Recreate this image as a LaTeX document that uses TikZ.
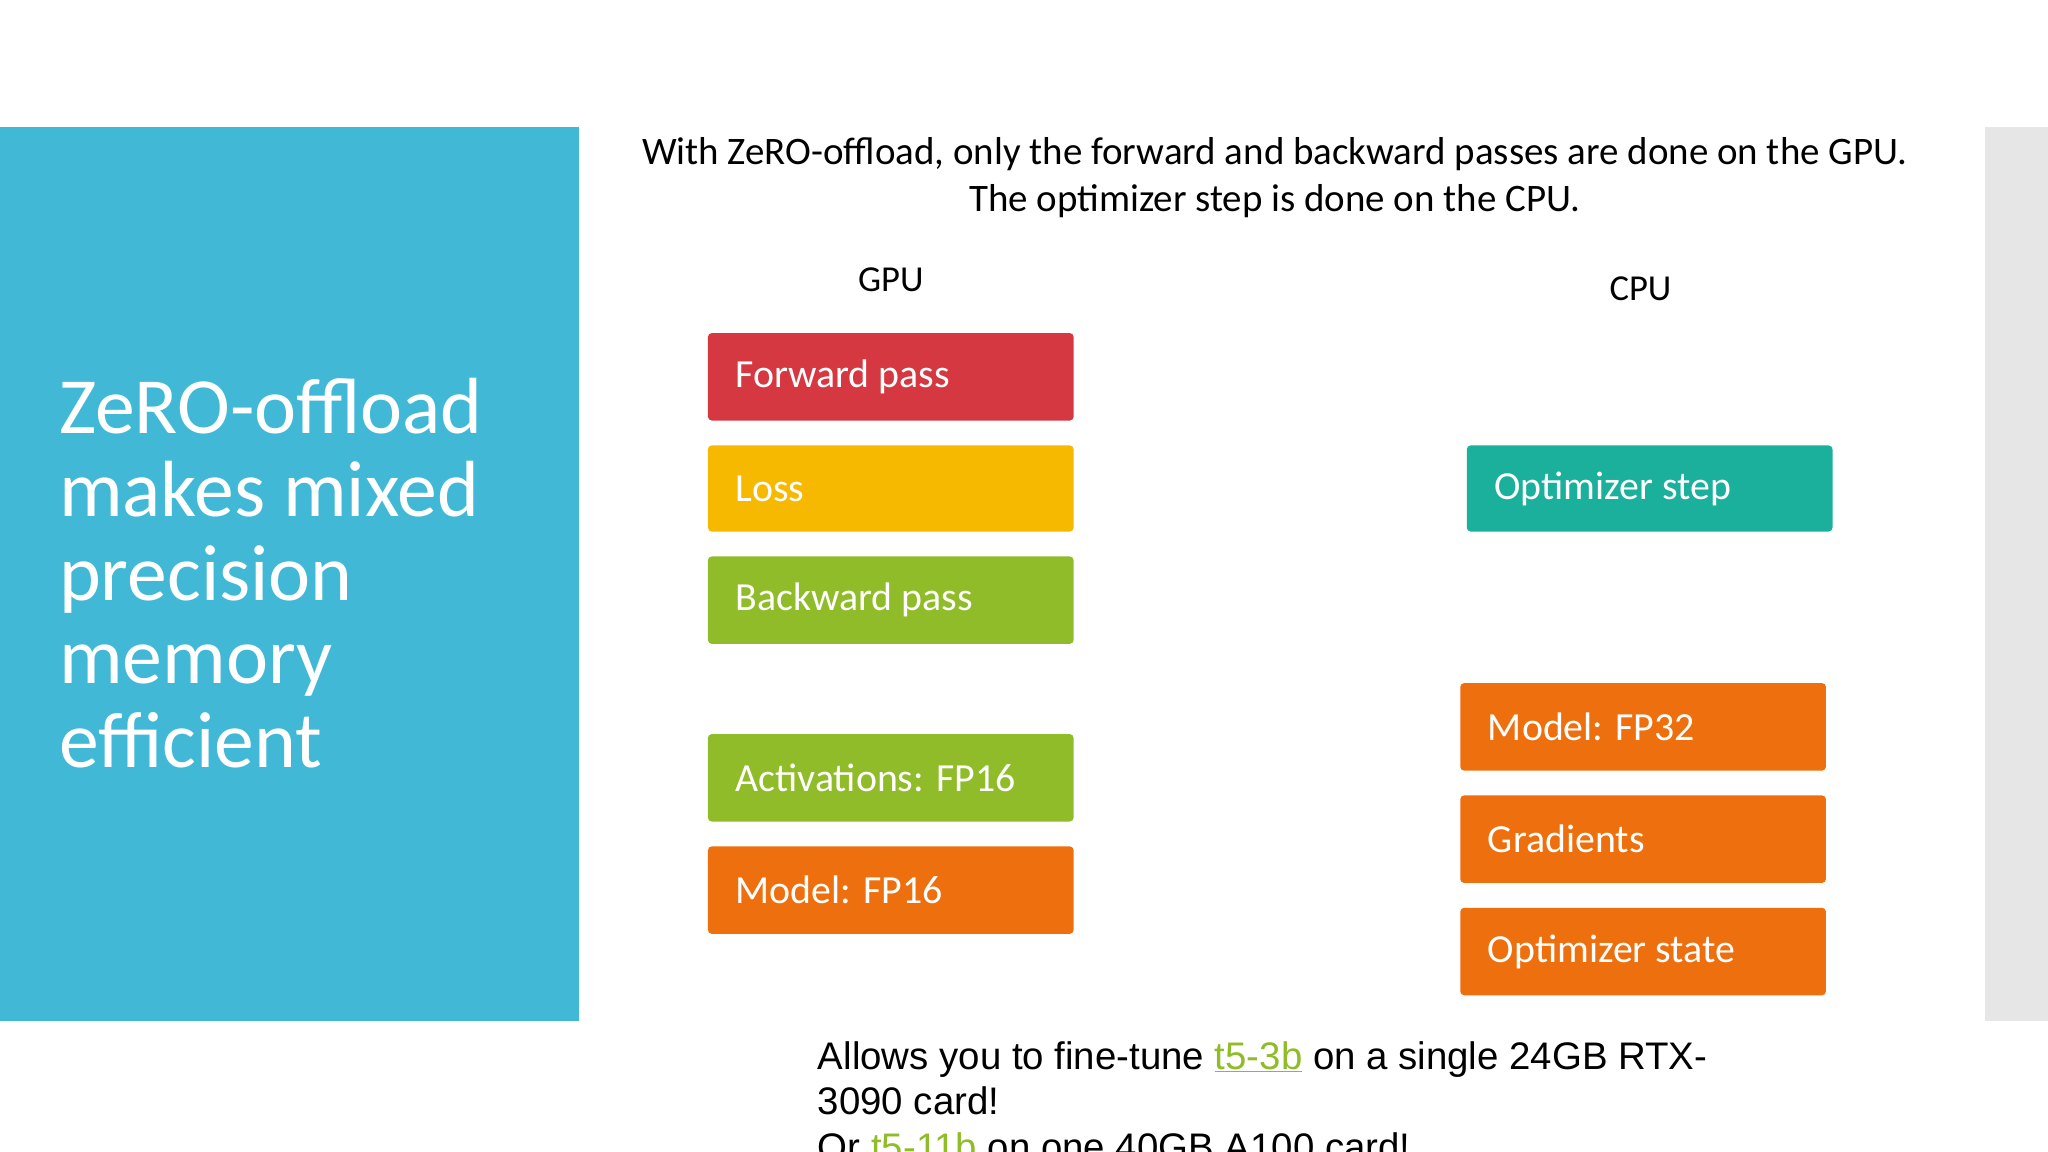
\documentclass[tikz,border=0pt]{standalone}
\usepackage{fontspec}
\setmainfont{Carlito}
\newfontfamily\arialf{Liberation Sans}
\definecolor{panel}{HTML}{41B8D5}
\definecolor{rgray}{HTML}{E6E6E6}
\definecolor{cred}{HTML}{D63841}
\definecolor{cyel}{HTML}{F6B900}
\definecolor{cgrn}{HTML}{8FBC28}
\definecolor{corg}{HTML}{EE6F0E}
\definecolor{cteal}{HTML}{1BB09B}
\tikzset{
 box/.style={fill=#1, rounded corners=3pt, draw=none},
 boxtxt/.style={anchor=west, text=white, font=\fontsize{30.5}{34}\selectfont, inner sep=0pt},
 hdr/.style={font=\fontsize{28}{32}\selectfont, inner sep=0pt},
}
\newcommand{\lnk}[1]{\textcolor{cgrn}{\underline{#1}}}
\begin{document}
\begin{tikzpicture}[x=1pt,y=-1pt]
\useasboundingbox (0,0) rectangle (1568,882);
\clip (0,0) rectangle (1568,882);
\fill[panel] (0,97) rectangle (443,782);
\fill[rgray] (1520,97) rectangle (1568,782);
\node[anchor=north west, text=white, align=left, inner sep=0pt, font=\fontsize{61}{64}\selectfont] (title) at (45,289)
 {ZeRO-offload\\makes mixed\\precision\\memory\\efficient};
\node[hdr, align=center, font=\fontsize{29.8}{36}\selectfont] (top) at (976,136)
 {With ZeRO-offload, only the forward and backward passes are done on the GPU.\\The optimizer step is done on the CPU.};
\node[hdr] (gpu) at (682,214) {GPU};
\node[hdr] (cpu) at (1256,221) {CPU};
\foreach \n/\c/\ya/\yb/\t in {fw/cred/255/322/Forward pass, loss/cyel/341/407/Loss, bw/cgrn/426/493/Backward pass, act/cgrn/562/629/Activations: FP16, m16/corg/648/715/Model: FP16}{
 \fill[box=\c] (542,\ya) rectangle (822,\yb);
 \node[boxtxt] (\n) at (563,{(\ya+\yb)/2}) {\t};
}
\fill[box=cteal] (1123,341) rectangle (1403,407);
\node[boxtxt] (opt) at (1144,374) {Optimizer step};
\foreach \n/\ya/\yb/\t in {m32/523/590/Model: FP32, grad/609/676/Gradients, ost/695/762/Optimizer state}{
 \fill[box=corg] (1118,\ya) rectangle (1398,\yb);
 \node[boxtxt] (\n) at (1139,{(\ya+\yb)/2}) {\t};
}
\node[anchor=north west, align=left, inner sep=0pt, font=\arialf\fontsize{29.4}{35}\selectfont] (bot) at (626,797)
 {Allows you to fine-tune \lnk{t5-3b} on a single 24GB RTX-\\3090 card!\\Or \lnk{t5-11b} on one 40GB A100 card!};
\end{tikzpicture}
\end{document}
